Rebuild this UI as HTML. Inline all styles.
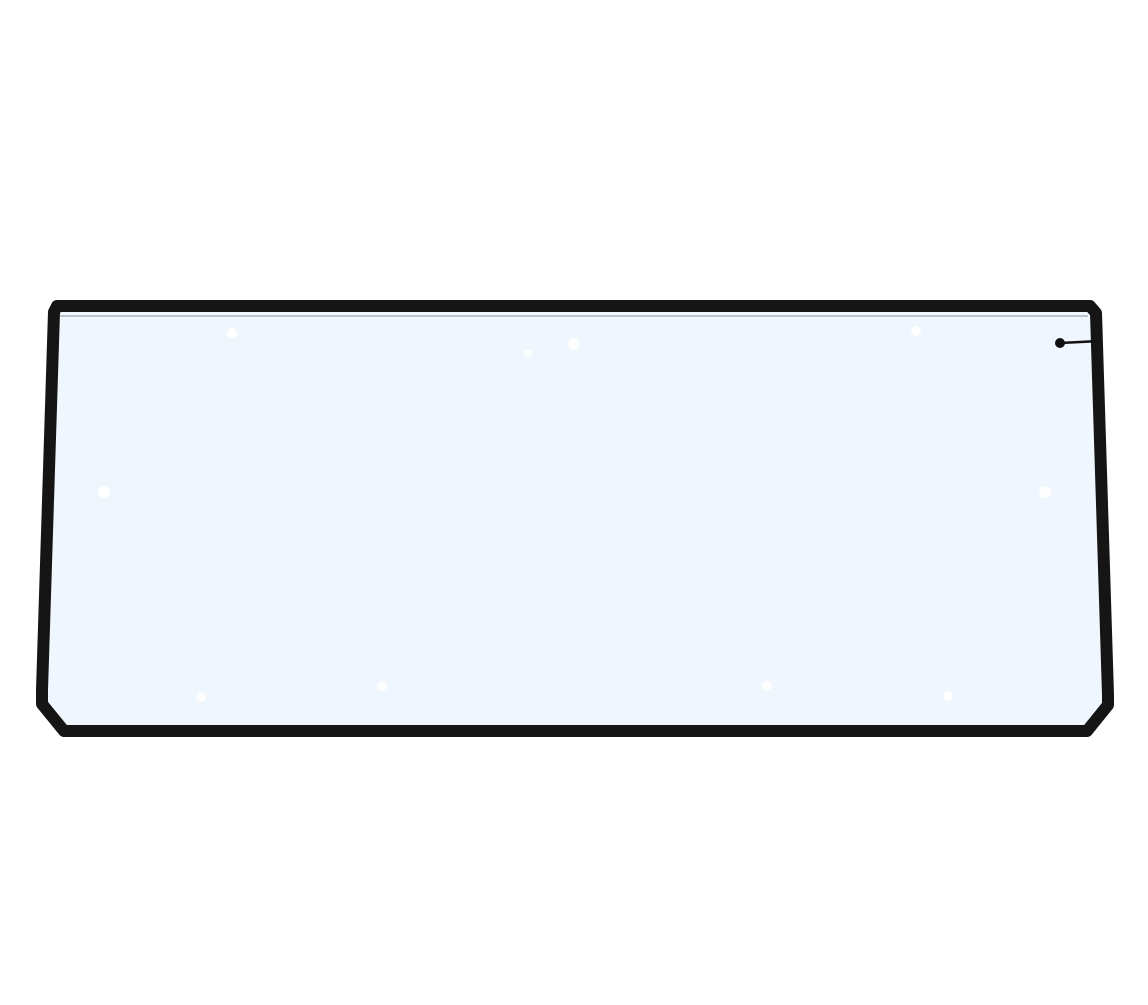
<!DOCTYPE html>
<html><head><style>html,body{margin:0;padding:0;background:#fff;width:1148px;height:1005px;overflow:hidden}</style></head>
<body>
<svg width="1148" height="1005" viewBox="0 0 1148 1005" xmlns="http://www.w3.org/2000/svg">
<polygon points="57,306 1090,306 1096,313 1108,695 1108,705 1087,731 64,731 42,704 42,690 54,312" fill="#eff6fd" stroke="#151515" stroke-width="12" stroke-linejoin="round"/>
<line x1="60" y1="316" x2="1088" y2="316" stroke="#8a9099" stroke-width="2" opacity="0.5"/>
<line x1="1060" y1="343" x2="1100" y2="341" stroke="#111" stroke-width="2.5"/>
<circle cx="1060" cy="343" r="5" fill="#111"/>
<g fill="#fff" opacity="0.9">
<circle cx="232" cy="333" r="5"/><circle cx="574" cy="344" r="6"/><circle cx="528" cy="353" r="4"/><circle cx="916" cy="331" r="5"/>
<circle cx="104" cy="492" r="6"/><circle cx="1045" cy="492" r="6"/>
<circle cx="201" cy="697" r="5"/><circle cx="382" cy="686" r="5"/><circle cx="767" cy="686" r="5"/><circle cx="948" cy="696" r="5"/>
</g>
</svg>
</body></html>
